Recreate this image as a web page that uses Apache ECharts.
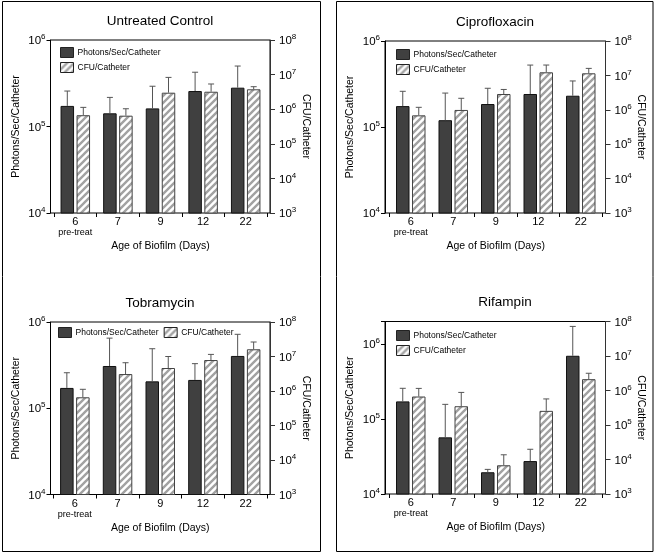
<!DOCTYPE html>
<html>
<head>
<meta charset="utf-8">
<script src="https://cdn.jsdelivr.net/npm/echarts/dist/echarts.min.js"></script>
<style>
  html, body { margin: 0; padding: 0; background: #fff; }
  #chart { width: 656px; height: 553px; }
</style>
</head>
<body>
<div id="chart"></div>
<script>
// x categories (age of biofilm, days)
const categories = ['6', '7', '9', '12', '22'];

// Untreated Control
const controlPhotons      = [1.73e5, 1.42e5, 1.62e5, 2.57e5, 2.81e5];
const controlPhotonsUpper = [2.57e5, 2.17e5, 2.92e5, 4.24e5, 5.0e5];
const controlCfu          = [6.7e5, 6.5e5, 3.0e6, 3.2e6, 3.76e6];
const controlCfuUpper     = [1.13e6, 1.03e6, 8.3e6, 5.35e6, 4.47e6];

// Ciprofloxacin
const ciproPhotons      = [1.75e5, 1.2e5, 1.85e5, 2.42e5, 2.31e5];
const ciproPhotonsUpper = [2.6e5, 2.48e5, 2.82e5, 5.25e5, 3.43e5];
const ciproCfu          = [6.9e5, 9.9e5, 2.88e6, 1.23e7, 1.15e7];
const ciproCfuUpper     = [1.18e6, 2.16e6, 3.9e6, 2.0e7, 1.6e7];

// Tobramycin
const tobraPhotons      = [1.72e5, 3.09e5, 2.05e5, 2.13e5, 4.04e5];
const tobraPhotonsUpper = [2.58e5, 6.5e5, 4.9e5, 3.29e5, 7.2e5];
const tobraCfu          = [6.57e5, 3.1e6, 4.64e6, 7.9e6, 1.62e7];
const tobraCfuUpper     = [1.12e6, 6.6e6, 1.0e7, 1.15e7, 2.63e7];

// Rifampin
const rifPhotons      = [1.72e5, 5.7e4, 1.95e4, 2.75e4, 6.98e5];
const rifPhotonsUpper = [2.57e5, 1.57e5, 2.13e4, 3.95e4, 1.72e6];
const rifCfu          = [6.7e5, 3.5e5, 6.8e3, 2.57e5, 2.13e6];
const rifCfuUpper     = [1.15e6, 8.8e5, 1.37e4, 5.7e5, 3.16e6];

const PHOTON_NAME = 'Photons/Sec/Catheter';
const CFU_NAME = 'CFU/Catheter';
const FONT = 'Liberation Sans, Arial, sans-serif';

const BAR_W = 13.5;
const BAR_GAP = 2.5;
const ERR_OFFSET = (BAR_W + BAR_GAP) / 2;

const panels = [
  {
    title: 'Untreated Control', titleX: 160, titleY: 14,
    frame: { left: 50.5, top: 40, width: 219.5, height: 173 },
    inner: { left: 54, width: 213 }, photonMax: 1e6,
    legend: { left: 60, top: 47, orient: 'vertical' },
    photons: controlPhotons, photonsUpper: controlPhotonsUpper,
    cfu: controlCfu, cfuUpper: controlCfuUpper
  },
  {
    title: 'Ciprofloxacin', titleX: 495, titleY: 15,
    frame: { left: 385, top: 41, width: 220.5, height: 172 },
    inner: { left: 389.5, width: 212.5 }, photonMax: 1e6,
    legend: { left: 396, top: 49, orient: 'vertical' },
    photons: ciproPhotons, photonsUpper: ciproPhotonsUpper,
    cfu: ciproCfu, cfuUpper: ciproCfuUpper
  },
  {
    title: 'Tobramycin', titleX: 160, titleY: 296,
    frame: { left: 50.5, top: 322, width: 219.5, height: 172.5 },
    inner: { left: 53.5, width: 213.5 }, photonMax: 1e6,
    legend: { left: 58, top: 327, orient: 'horizontal' },
    photons: tobraPhotons, photonsUpper: tobraPhotonsUpper,
    cfu: tobraCfu, cfuUpper: tobraCfuUpper
  },
  {
    title: 'Rifampin', titleX: 505, titleY: 295,
    frame: { left: 385, top: 321.5, width: 220.5, height: 172.5 },
    inner: { left: 389.5, width: 212.5 }, photonMax: 2e6,
    legend: { left: 396, top: 330, orient: 'vertical' },
    photons: rifPhotons, photonsUpper: rifPhotonsUpper,
    cfu: rifCfu, cfuUpper: rifCfuUpper
  }
];

// diagonal hatch used for the CFU bars
function makeHatch() {
  const s = 7;
  const c = document.createElement('canvas');
  c.width = s; c.height = s;
  const ctx = c.getContext('2d');
  ctx.fillStyle = '#ffffff';
  ctx.fillRect(0, 0, s, s);
  ctx.strokeStyle = '#a2a2a2';
  ctx.lineWidth = 2.4;
  ctx.beginPath();
  ctx.moveTo(-2, 2); ctx.lineTo(2, -2);
  ctx.moveTo(-1, s + 1); ctx.lineTo(s + 1, -1);
  ctx.moveTo(s - 2, s + 2); ctx.lineTo(s + 2, s - 2);
  ctx.stroke();
  return c;
}
const hatch = { image: makeHatch(), repeat: 'repeat' };

const powLabel = (v) => {
  const e = Math.log10(v);
  const r = Math.round(e);
  if (Math.abs(e - r) > 1e-6) return '';
  return '{b|10}{s|' + r + '}';
};
const powRich = {
  b: { fontSize: 11.5, color: '#000', fontFamily: FONT, verticalAlign: 'bottom', lineHeight: 14 },
  s: { fontSize: 8, color: '#000', fontFamily: FONT, verticalAlign: 'bottom', padding: [0, 0, 6, 0] }
};

function errorBar(offset) {
  return function (params, api) {
    const i = api.value(0);
    const base = api.coord([i, api.value(1)]);
    const top = api.coord([i, api.value(2)]);
    const x = base[0] + offset;
    const style = { stroke: '#555', lineWidth: 1 };
    return {
      type: 'group',
      children: [
        { type: 'line', shape: { x1: x, y1: base[1], x2: x, y2: top[1] }, style: style },
        { type: 'line', shape: { x1: x - 3, y1: top[1], x2: x + 3, y2: top[1] }, style: style }
      ]
    };
  };
}

const option = {
  animation: false,
  textStyle: { fontFamily: FONT },
  title: [], legend: [], grid: [], xAxis: [], yAxis: [], series: [],
  graphic: [
    { type: 'rect', shape: { x: 2.5, y: 1.5, width: 318, height: 550 },
      style: { fill: 'none', stroke: '#000', lineWidth: 1 } },
    { type: 'rect', shape: { x: 336.5, y: 1.5, width: 316.5, height: 550 },
      style: { fill: 'none', stroke: '#000', lineWidth: 1 } }
  ]
};

panels.forEach((p, k) => {
  const frameGrid = 2 * k;
  const innerGrid = 2 * k + 1;
  const xInner = 2 * k + 1;
  const yLeft = 3 * k + 1;
  const yRight = 3 * k + 2;

  option.title.push({
    text: p.title, left: p.titleX, top: p.titleY, textAlign: 'center', padding: 0,
    textStyle: { fontSize: 13.5, fontWeight: 'normal', color: '#000', fontFamily: FONT }
  });

  option.legend.push({
    data: [PHOTON_NAME, CFU_NAME], left: p.legend.left, top: p.legend.top,
    orient: p.legend.orient, padding: 0, itemGap: p.legend.orient === 'vertical' ? 4 : 5,
    itemWidth: 13, itemHeight: 10, icon: 'rect', selectedMode: false,
    itemStyle: { borderColor: '#222', borderWidth: 1 },
    textStyle: { fontSize: 8.5, color: '#000', fontFamily: FONT, padding: [0, 0, 0, -1] }
  });

  // outer frame grid (draws the box around the plot)
  option.grid.push({
    left: p.frame.left, top: p.frame.top, width: p.frame.width, height: p.frame.height,
    show: true, borderColor: '#000', borderWidth: 1, backgroundColor: 'transparent',
    outerBoundsMode: 'none'
  });
  // inner grid holds bars (categories are inset a little from the y axes)
  option.grid.push({
    left: p.inner.left, top: p.frame.top, width: p.inner.width, height: p.frame.height,
    show: false, outerBoundsMode: 'none'
  });

  option.xAxis.push({ gridIndex: frameGrid, type: 'category', data: categories, show: false });
  option.xAxis.push({
    gridIndex: innerGrid, type: 'category', data: categories,
    name: 'Age of Biofilm (Days)', nameLocation: 'middle', nameGap: 28,
    nameTextStyle: { fontSize: 10.5, color: '#000', fontFamily: FONT },
    axisLine: { show: false },
    axisTick: { show: true, length: 4, inside: false, lineStyle: { color: '#000' } },
    splitLine: { show: false },
    axisLabel: {
      interval: 0, margin: 3, color: '#000',
      formatter: (v) => v === '6' ? '{a|6}\n{c|pre-treat}' : '{a|' + v + '}',
      rich: {
        a: { fontSize: 11, lineHeight: 12, color: '#000', fontFamily: FONT },
        c: { fontSize: 9, lineHeight: 10, color: '#000', fontFamily: FONT }
      }
    }
  });

  option.yAxis.push({ gridIndex: frameGrid, type: 'value', show: false });
  option.yAxis.push({
    gridIndex: innerGrid, type: 'log', logBase: 10, min: 1e4, max: p.photonMax,
    position: 'left', offset: p.inner.left - p.frame.left,
    name: PHOTON_NAME, nameLocation: 'middle', nameRotate: 90, nameGap: 29,
    nameTextStyle: { fontSize: 10.5, color: '#000', fontFamily: FONT },
    axisLine: { show: true, lineStyle: { color: '#000' } },
    axisTick: { show: true, length: 4, inside: false, lineStyle: { color: '#000' } },
    minorTick: { show: false },
    splitLine: { show: false },
    axisLabel: { margin: 5, formatter: powLabel, rich: powRich }
  });
  option.yAxis.push({
    gridIndex: innerGrid, type: 'log', logBase: 10, min: 1e3, max: 1e8,
    position: 'right',
    offset: (p.frame.left + p.frame.width) - (p.inner.left + p.inner.width),
    name: CFU_NAME, nameLocation: 'middle', nameRotate: -90, nameGap: 29,
    nameTextStyle: { fontSize: 10.5, color: '#000', fontFamily: FONT },
    axisLine: { show: true, lineStyle: { color: '#333' } },
    axisTick: { show: true, length: 5, inside: false, lineStyle: { color: '#333' } },
    minorTick: { show: false },
    splitLine: { show: false },
    axisLabel: { margin: 9, formatter: powLabel, rich: powRich }
  });

  option.series.push({
    name: PHOTON_NAME, type: 'bar', xAxisIndex: xInner, yAxisIndex: yLeft,
    data: p.photons, barWidth: BAR_W, barGap: (BAR_GAP / BAR_W * 100) + '%',
    clip: true,
    itemStyle: { color: '#404040', borderColor: '#111', borderWidth: 1 },
    emphasis: { disabled: true }
  });
  option.series.push({
    name: CFU_NAME, type: 'bar', xAxisIndex: xInner, yAxisIndex: yRight,
    data: p.cfu, barWidth: BAR_W, barGap: (BAR_GAP / BAR_W * 100) + '%',
    clip: true,
    itemStyle: { color: hatch, borderColor: '#444', borderWidth: 1 },
    emphasis: { disabled: true }
  });
  option.series.push({
    type: 'custom', xAxisIndex: xInner, yAxisIndex: yLeft, z: 3,
    renderItem: errorBar(-ERR_OFFSET),
    data: p.photons.map((v, i) => [i, v, p.photonsUpper[i]])
  });
  option.series.push({
    type: 'custom', xAxisIndex: xInner, yAxisIndex: yRight, z: 3,
    renderItem: errorBar(ERR_OFFSET),
    data: p.cfu.map((v, i) => [i, v, p.cfuUpper[i]])
  });
});

const chart = echarts.init(document.getElementById('chart'));
chart.setOption(option);
</script>
</body>
</html>
